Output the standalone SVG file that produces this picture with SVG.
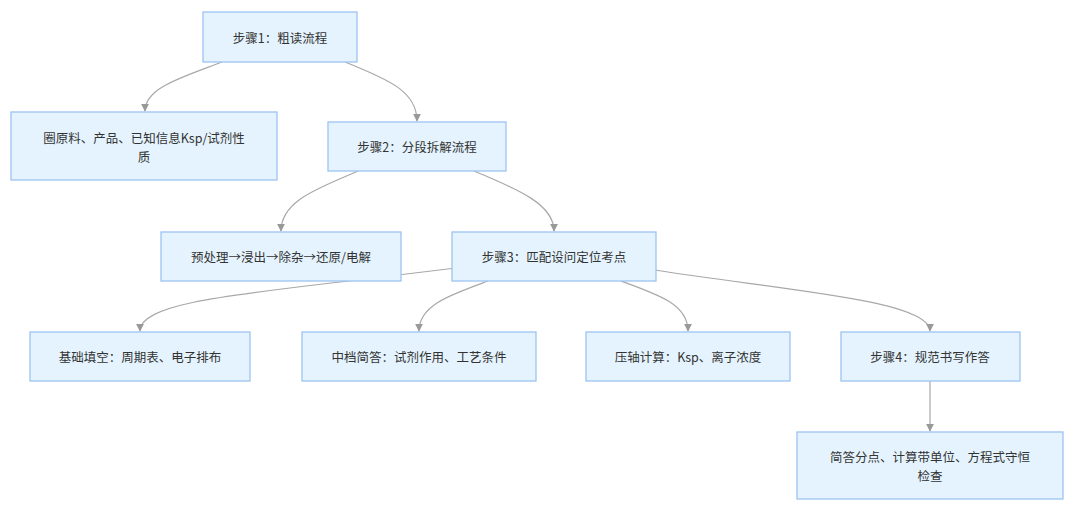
<svg xmlns="http://www.w3.org/2000/svg" width="1080" height="507" viewBox="0 0 1080 507">
<defs>
<style>
.node rect{fill:#e5f3fe;stroke:#9dc3f2;stroke-width:1.3}
.node text{font-family:"Noto Sans CJK SC","Noto Sans",sans-serif;font-size:12.5px;fill:#333;text-anchor:middle;dominant-baseline:central}
.edge{fill:none;stroke:#a8a8a8;stroke-width:1.2;marker-end:url(#arr)}
</style>
<marker id="arr" viewBox="0 0 10 10" refX="9" refY="5" markerWidth="8" markerHeight="8" markerUnits="userSpaceOnUse" orient="auto">
<path d="M0,0 L10,5 L0,10 z" fill="#999"/>
</marker>
</defs>
<rect width="1080" height="507" fill="#fff"/>
<g id="connectors">
<path class="edge" d="M222,62 C180,78 145,88 145,111"/>
<path class="edge" d="M345,62 C390,80 417,92 417,121"/>
<path class="edge" d="M358,171 C320,188 281,200 281,231"/>
<path class="edge" d="M474,171 C520,190 554,205 554,231"/>
<path class="edge" d="M456,268 L340,282 C220,296 140,305 140,331"/>
<path class="edge" d="M488,281 C450,295 419,305 419,331"/>
<path class="edge" d="M621,281 C660,295 688,305 688,331"/>
<path class="edge" d="M655,270 C780,290 930,300 930,331"/>
<path class="edge" d="M930,381 L930,431"/>
</g>
<g id="n1" class="node"><rect x="203" y="12" width="154" height="50"/><text x="280" y="37">步骤1：粗读流程</text></g>
<g id="n2" class="node"><rect x="11" y="112" width="266" height="68"/><text x="144" y="137">圈原料、产品、已知信息Ksp/试剂性</text><text x="144" y="156">质</text></g>
<g id="n3" class="node"><rect x="328" y="122" width="178" height="49"/><text x="417" y="146.5">步骤2：分段拆解流程</text></g>
<g id="n4" class="node"><rect x="161" y="232" width="240" height="49"/><text x="281" y="256.5">预处理→浸出→除杂→还原/电解</text></g>
<g id="n5" class="node"><rect x="452" y="232" width="204" height="49"/><text x="554" y="256.5">步骤3：匹配设问定位考点</text></g>
<g id="n6" class="node"><rect x="30" y="332" width="220" height="49"/><text x="140" y="356.5">基础填空：周期表、电子排布</text></g>
<g id="n7" class="node"><rect x="302" y="332" width="234" height="49"/><text x="419" y="356.5">中档简答：试剂作用、工艺条件</text></g>
<g id="n8" class="node"><rect x="586" y="332" width="204" height="49"/><text x="688" y="356.5">压轴计算：Ksp、离子浓度</text></g>
<g id="n9" class="node"><rect x="841" y="332" width="179" height="49"/><text x="930" y="356.5">步骤4：规范书写作答</text></g>
<g id="n10" class="node"><rect x="797" y="432" width="266" height="67"/><text x="930" y="456">简答分点、计算带单位、方程式守恒</text><text x="930" y="475">检查</text></g>
</svg>
